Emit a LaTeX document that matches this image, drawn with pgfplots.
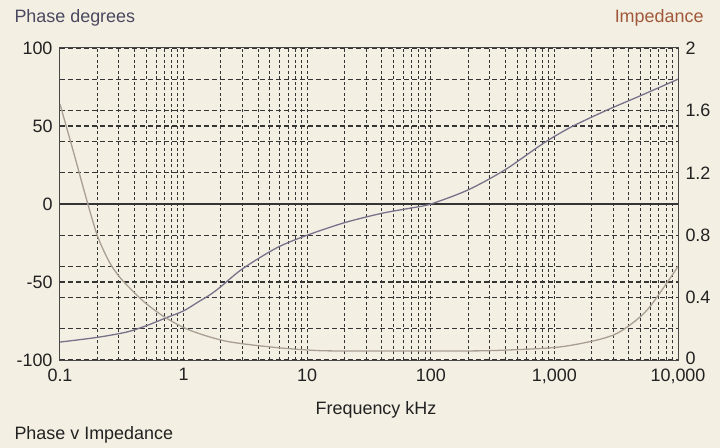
\documentclass[border=0pt]{standalone}
\usepackage{pgfplots}
\pgfplotsset{compat=1.18}
\usepackage{fontspec}
\setmainfont{Liberation Sans}
\definecolor{bg}{HTML}{F4EFE3}
\definecolor{gridc}{HTML}{343434}
\definecolor{phasec}{HTML}{77728A}
\definecolor{impc}{HTML}{A89F92}
\definecolor{ltitle}{HTML}{4A4860}
\definecolor{rtitle}{HTML}{A0583A}
\definecolor{txt}{HTML}{222222}
\begin{document}
\begin{tikzpicture}
\fill[bg] (-60bp,-88bp) rectangle (660bp,360bp);
\begin{axis}[
  at={(0,0)}, anchor=south west,
  scale only axis, width=618bp, height=312bp,
  xmode=log, xmin=0.1, xmax=10000,
  ymin=-100, ymax=100,
  axis line style={draw=gridc!90, line width=1bp},
  major tick length=0pt, minor tick length=0pt,
  xtick={0.1,1,10,100,1000,10000},
  xticklabels={0.1,1,10,100,{1,000},{10,000}},
  ytick={-100,-50,0,50,100},
  yticklabels={-100,-50,0,50,100},
  extra y ticks={-80,-60,-40,-20,20,40,60,80},
  extra y tick labels={},
  extra y tick style={grid=major},
  xmajorgrids, xminorgrids, ymajorgrids,
  major x grid style={draw=gridc, line width=1bp, dash pattern=on 3bp off 2.5bp},
  minor x grid style={draw=gridc, line width=1bp, dash pattern=on 3bp off 2.5bp},
  major y grid style={draw=gridc, line width=1.1bp, dash pattern=on 5bp off 3bp},
  tick label style={font=\fontsize{18}{20}\selectfont, text=txt},
  yticklabel style={xshift=-4bp},
  xticklabel style={yshift=-5bp},
]
\addplot[gridc, line width=1.1bp, solid] coordinates {(0.1,0) (10000,0)};
\addplot[phasec, line width=1.3bp, smooth] coordinates {
(0.1,-88.5) (0.2,-85.5) (0.35,-82) (0.5,-78) (0.72,-73) (1,-68.5) (1.3,-63)
(1.65,-58) (2,-53) (3,-41.5) (5.7,-28) (10,-20) (20,-12) (40,-6)
(70,-2.5) (100,0) (200,9) (400,22) (800,38.5) (1340,49)
(2630,60) (5000,69.5) (10000,80)};
\end{axis}
\begin{axis}[
  at={(0,0)}, anchor=south west,
  scale only axis, width=618bp, height=312bp,
  xmode=log, xmin=0.1, xmax=10000,
  ymin=0, ymax=2,
  hide x axis,
  axis y line*=right,
  axis line style={draw=gridc!90, line width=1bp},
  major tick length=0pt, minor tick length=0pt,
  ytick={0,0.4,0.8,1.2,1.6,2},
  yticklabels={{\raisebox{4bp}{0}},0.4,0.8,1.2,1.6,2},
  tick label style={font=\fontsize{18}{20}\selectfont, text=txt},
  yticklabel style={xshift=4bp},
]
\addplot[impc, line width=1.3bp, smooth] coordinates {
(0.1,1.64) (0.13,1.32) (0.16,1.06) (0.2,0.8) (0.25,0.63) (0.305,0.53) (0.39,0.44)
(0.5,0.36) (0.72,0.27) (1.13,0.19) (2.23,0.12) (5.6,0.08) (12.7,0.06) (30,0.058)
(100,0.058) (300,0.06) (1000,0.08) (2000,0.12) (3000,0.16) (3860,0.21) (5000,0.28)
(5900,0.34) (7000,0.42) (8900,0.54) (10000,0.6)};
\end{axis}
\node[anchor=west, text=ltitle, font=\fontsize{18}{20}\selectfont] at (-49bp,342bp) {Phase degrees};
\node[anchor=east, text=rtitle, font=\fontsize{18}{20}\selectfont] at (647bp,342bp) {Impedance};
\node[text=txt, font=\fontsize{18}{20}\selectfont] at (316bp,-50bp) {Frequency kHz};
\node[anchor=west, text=txt, font=\fontsize{18}{20}\selectfont] at (-49bp,-75bp) {Phase v Impedance};
\pgfresetboundingbox
\path (-60bp,-88bp) rectangle (660bp,360bp);
\end{tikzpicture}
\end{document}
